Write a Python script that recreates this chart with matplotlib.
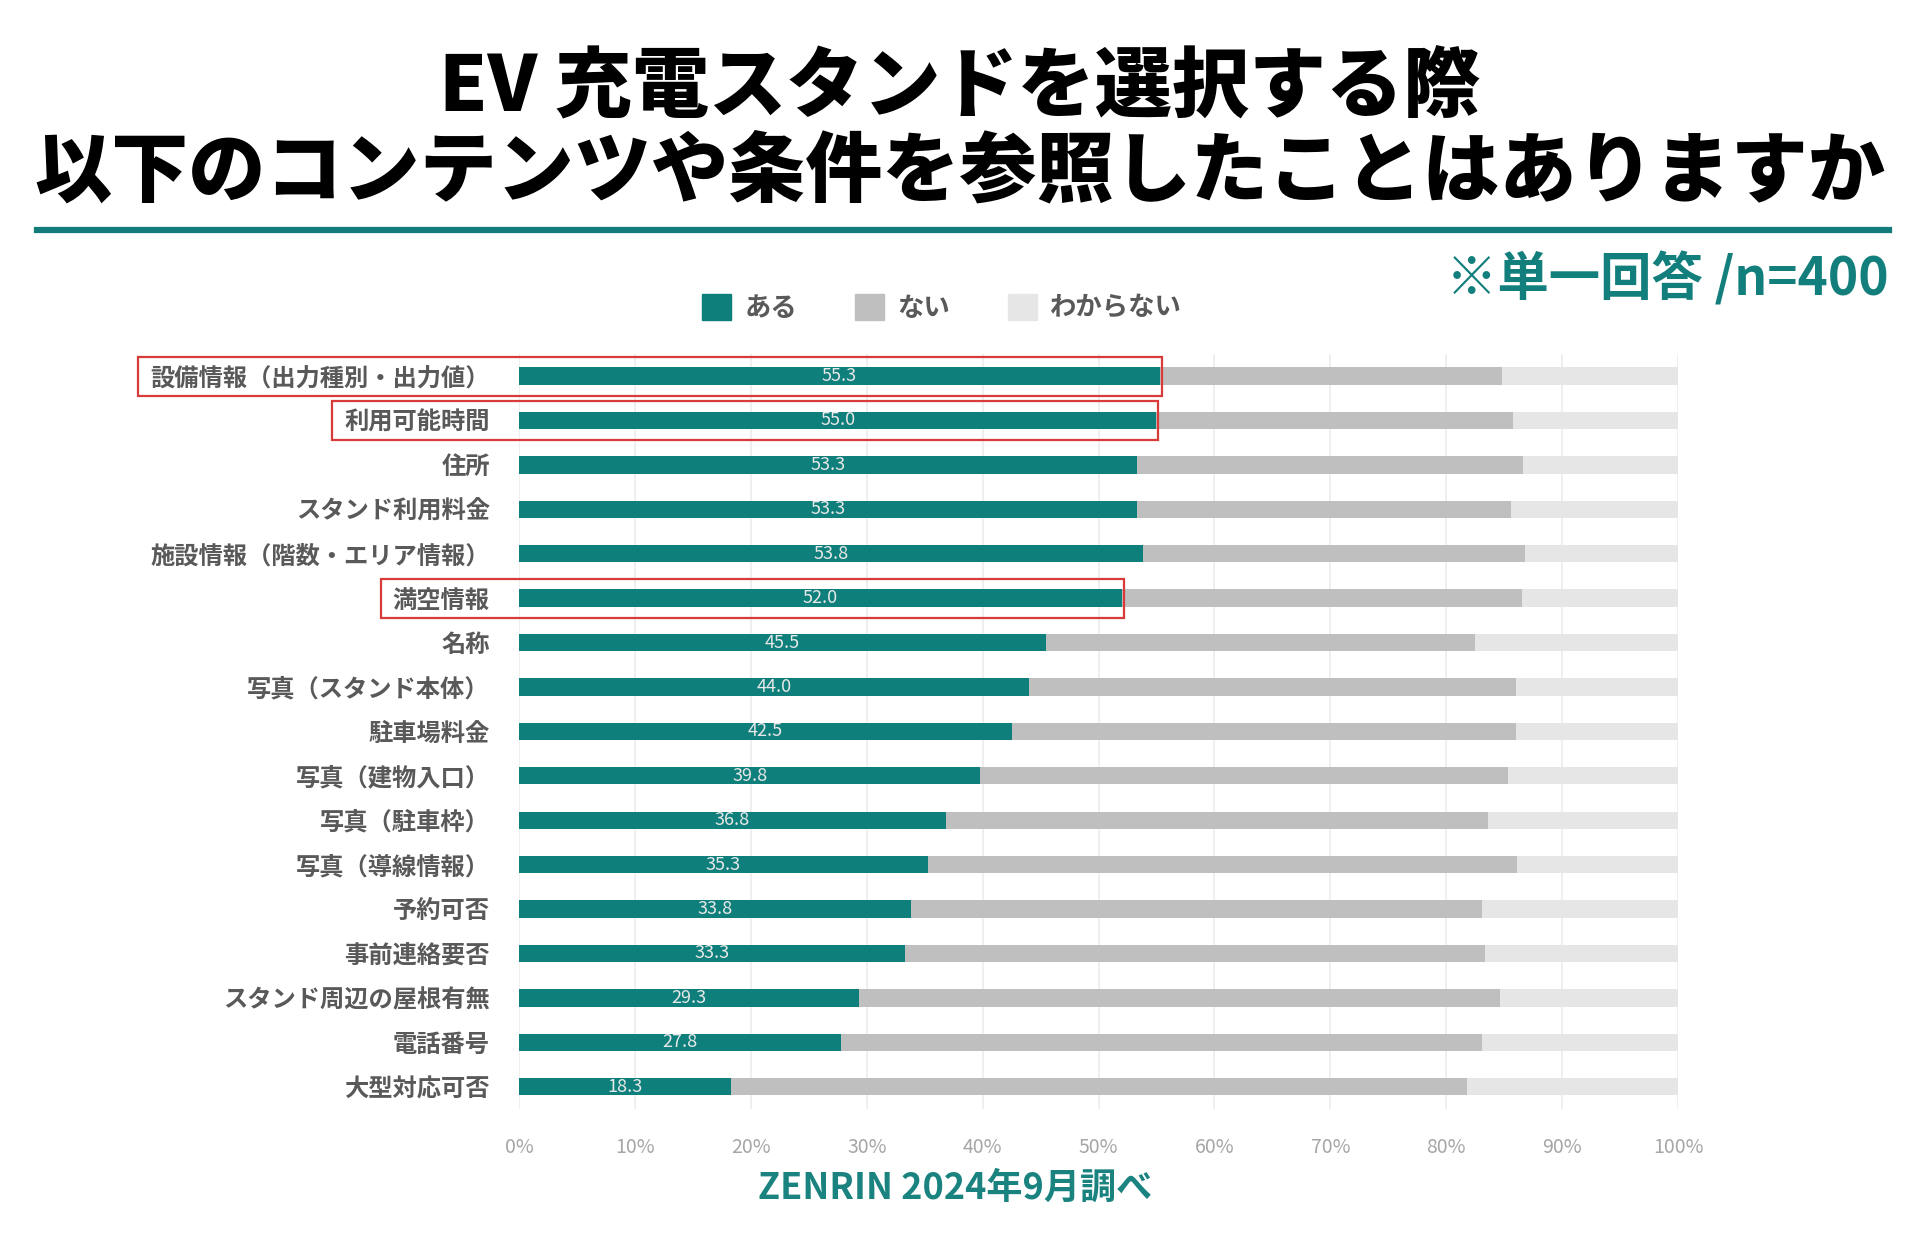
import numpy as np
import matplotlib
matplotlib.use("Agg")
import matplotlib.pyplot as plt
from matplotlib.patches import Patch, Rectangle
from matplotlib.lines import Line2D

plt.rcParams['font.family'] = ['Noto Sans CJK JP', 'DejaVu Sans']

# データ（上から順）
categories = ['設備情報（出力種別・出力値）', '利用可能時間', '住所', 'スタンド利用料金',
              '施設情報（階数・エリア情報）', '満空情報', '名称', '写真（スタンド本体）',
              '駐車場料金', '写真（建物入口）', '写真（駐車枠）', '写真（導線情報）',
              '予約可否', '事前連絡要否', 'スタンド周辺の屋根有無', '電話番号', '大型対応可否']
aru = [55.3, 55.0, 53.3, 53.3, 53.8, 52.0, 45.5, 44.0, 42.5, 39.8, 36.8, 35.3,
       33.8, 33.3, 29.3, 27.8, 18.3]
nai = [29.5, 30.8, 33.3, 32.3, 33.0, 34.5, 37.0, 42.0, 43.5, 45.5, 46.8, 50.8,
       49.3, 50.0, 55.3, 55.3, 63.5]
wakaranai = [15.2, 14.2, 13.4, 14.4, 13.2, 13.5, 17.5, 14.0, 14.0, 14.7, 16.4, 13.9,
             16.9, 16.7, 15.4, 16.9, 18.2]
series_names = ['ある', 'ない', 'わからない']
highlight = [0, 1, 5]   # 赤枠の行
x_ticks = [0, 10, 20, 30, 40, 50, 60, 70, 80, 90, 100]

teal = '#0f7f7c'
gray = '#bfbfbf'
light = '#e6e6e6'
text_gray = '#595959'

fig = plt.figure(figsize=(19.2, 12.46), dpi=100)
ax = fig.add_axes([0.2703, 0.110, 0.6037, 0.606])

y = np.arange(len(categories))
h = 0.39
aru_a = np.array(aru)
nai_a = np.array(nai)
ax.barh(y, aru_a, height=h, color=teal, zorder=3)
ax.barh(y, nai_a, left=aru_a, height=h, color=gray, zorder=3)
ax.barh(y, wakaranai, left=aru_a + nai_a, height=h, color=light, zorder=3)

for i, v in enumerate(aru):
    ax.text(v / 2, i, f'{v:.1f}', ha='center', va='center', fontsize=13,
            color='#e8e8e8', zorder=4)

ax.set_xlim(0, 100)
ax.set_ylim(len(categories) - 0.5, -0.5)
ax.set_yticks(y)
ax.set_yticklabels(categories, fontsize=17.5, color=text_gray, fontweight='bold')
ax.set_xticks(x_ticks)
ax.set_xticklabels([f'{t}%' for t in x_ticks], fontsize=14, color='#a6a6a6')
ax.tick_params(axis='y', length=0, pad=21)
ax.tick_params(axis='x', length=0, pad=20)
ax.grid(axis='x', color='#ececec', linewidth=1.2, zorder=0)
for s in ax.spines.values():
    s.set_visible(False)

# タイトル
fig.text(0.5, 1 - 88 / 1246, 'EV 充電スタンドを選択する際', ha='center', va='center',
         fontsize=55.5, fontweight=900, color='black')
fig.text(0.5, 1 - 172 / 1246, '以下のコンテンツや条件を参照したことはありますか', ha='center',
         va='center', fontsize=55.5, fontweight=900, color='black')
fig.add_artist(Line2D([37 / 1920, 1889 / 1920], [1 - 230 / 1246, 1 - 230 / 1246],
                      transform=fig.transFigure, color='#137b79', linewidth=4.5))
fig.text(1889 / 1920, 1 - 279 / 1246, '※単一回答 /n=400', ha='right', va='center',
         fontsize=37, fontweight='bold', color='#137f7c')

# 凡例
handles = [Patch(color=c) for c in [teal, gray, light]]
fig.legend(handles, series_names, loc='center', bbox_to_anchor=(942 / 1920, 1 - 308 / 1246),
           ncol=3, frameon=False, handlelength=1.1, handleheight=1.1,
           handletextpad=0.5, columnspacing=2.2, labelcolor=text_gray,
           prop={'weight': 'bold', 'size': 19})

# 出典
fig.text(955 / 1920, 1 - 1188 / 1246, 'ZENRIN 2024年9月調べ', ha='center', va='center',
         fontsize=26, fontweight='bold', color='#1a8380')

# 赤枠
fig.canvas.draw()
renderer = fig.canvas.get_renderer()
labels = ax.get_yticklabels()
inv = fig.transFigure.inverted()
for i in highlight:
    bb = labels[i].get_window_extent(renderer)
    x0 = bb.x0 - 12
    x1 = ax.transData.transform((aru[i], i))[0] + 2
    yt = ax.transData.transform((0, i - 0.44))[1]
    yb = ax.transData.transform((0, i + 0.44))[1]
    (fx0, fy0), (fx1, fy1) = inv.transform([(x0, yb), (x1, yt)])
    fig.add_artist(Rectangle((fx0, fy0), fx1 - fx0, fy1 - fy0, transform=fig.transFigure,
                             fill=False, edgecolor='#d93a3a', linewidth=1.6, zorder=10))

fig.savefig('out.png', dpi=100, facecolor='white')
